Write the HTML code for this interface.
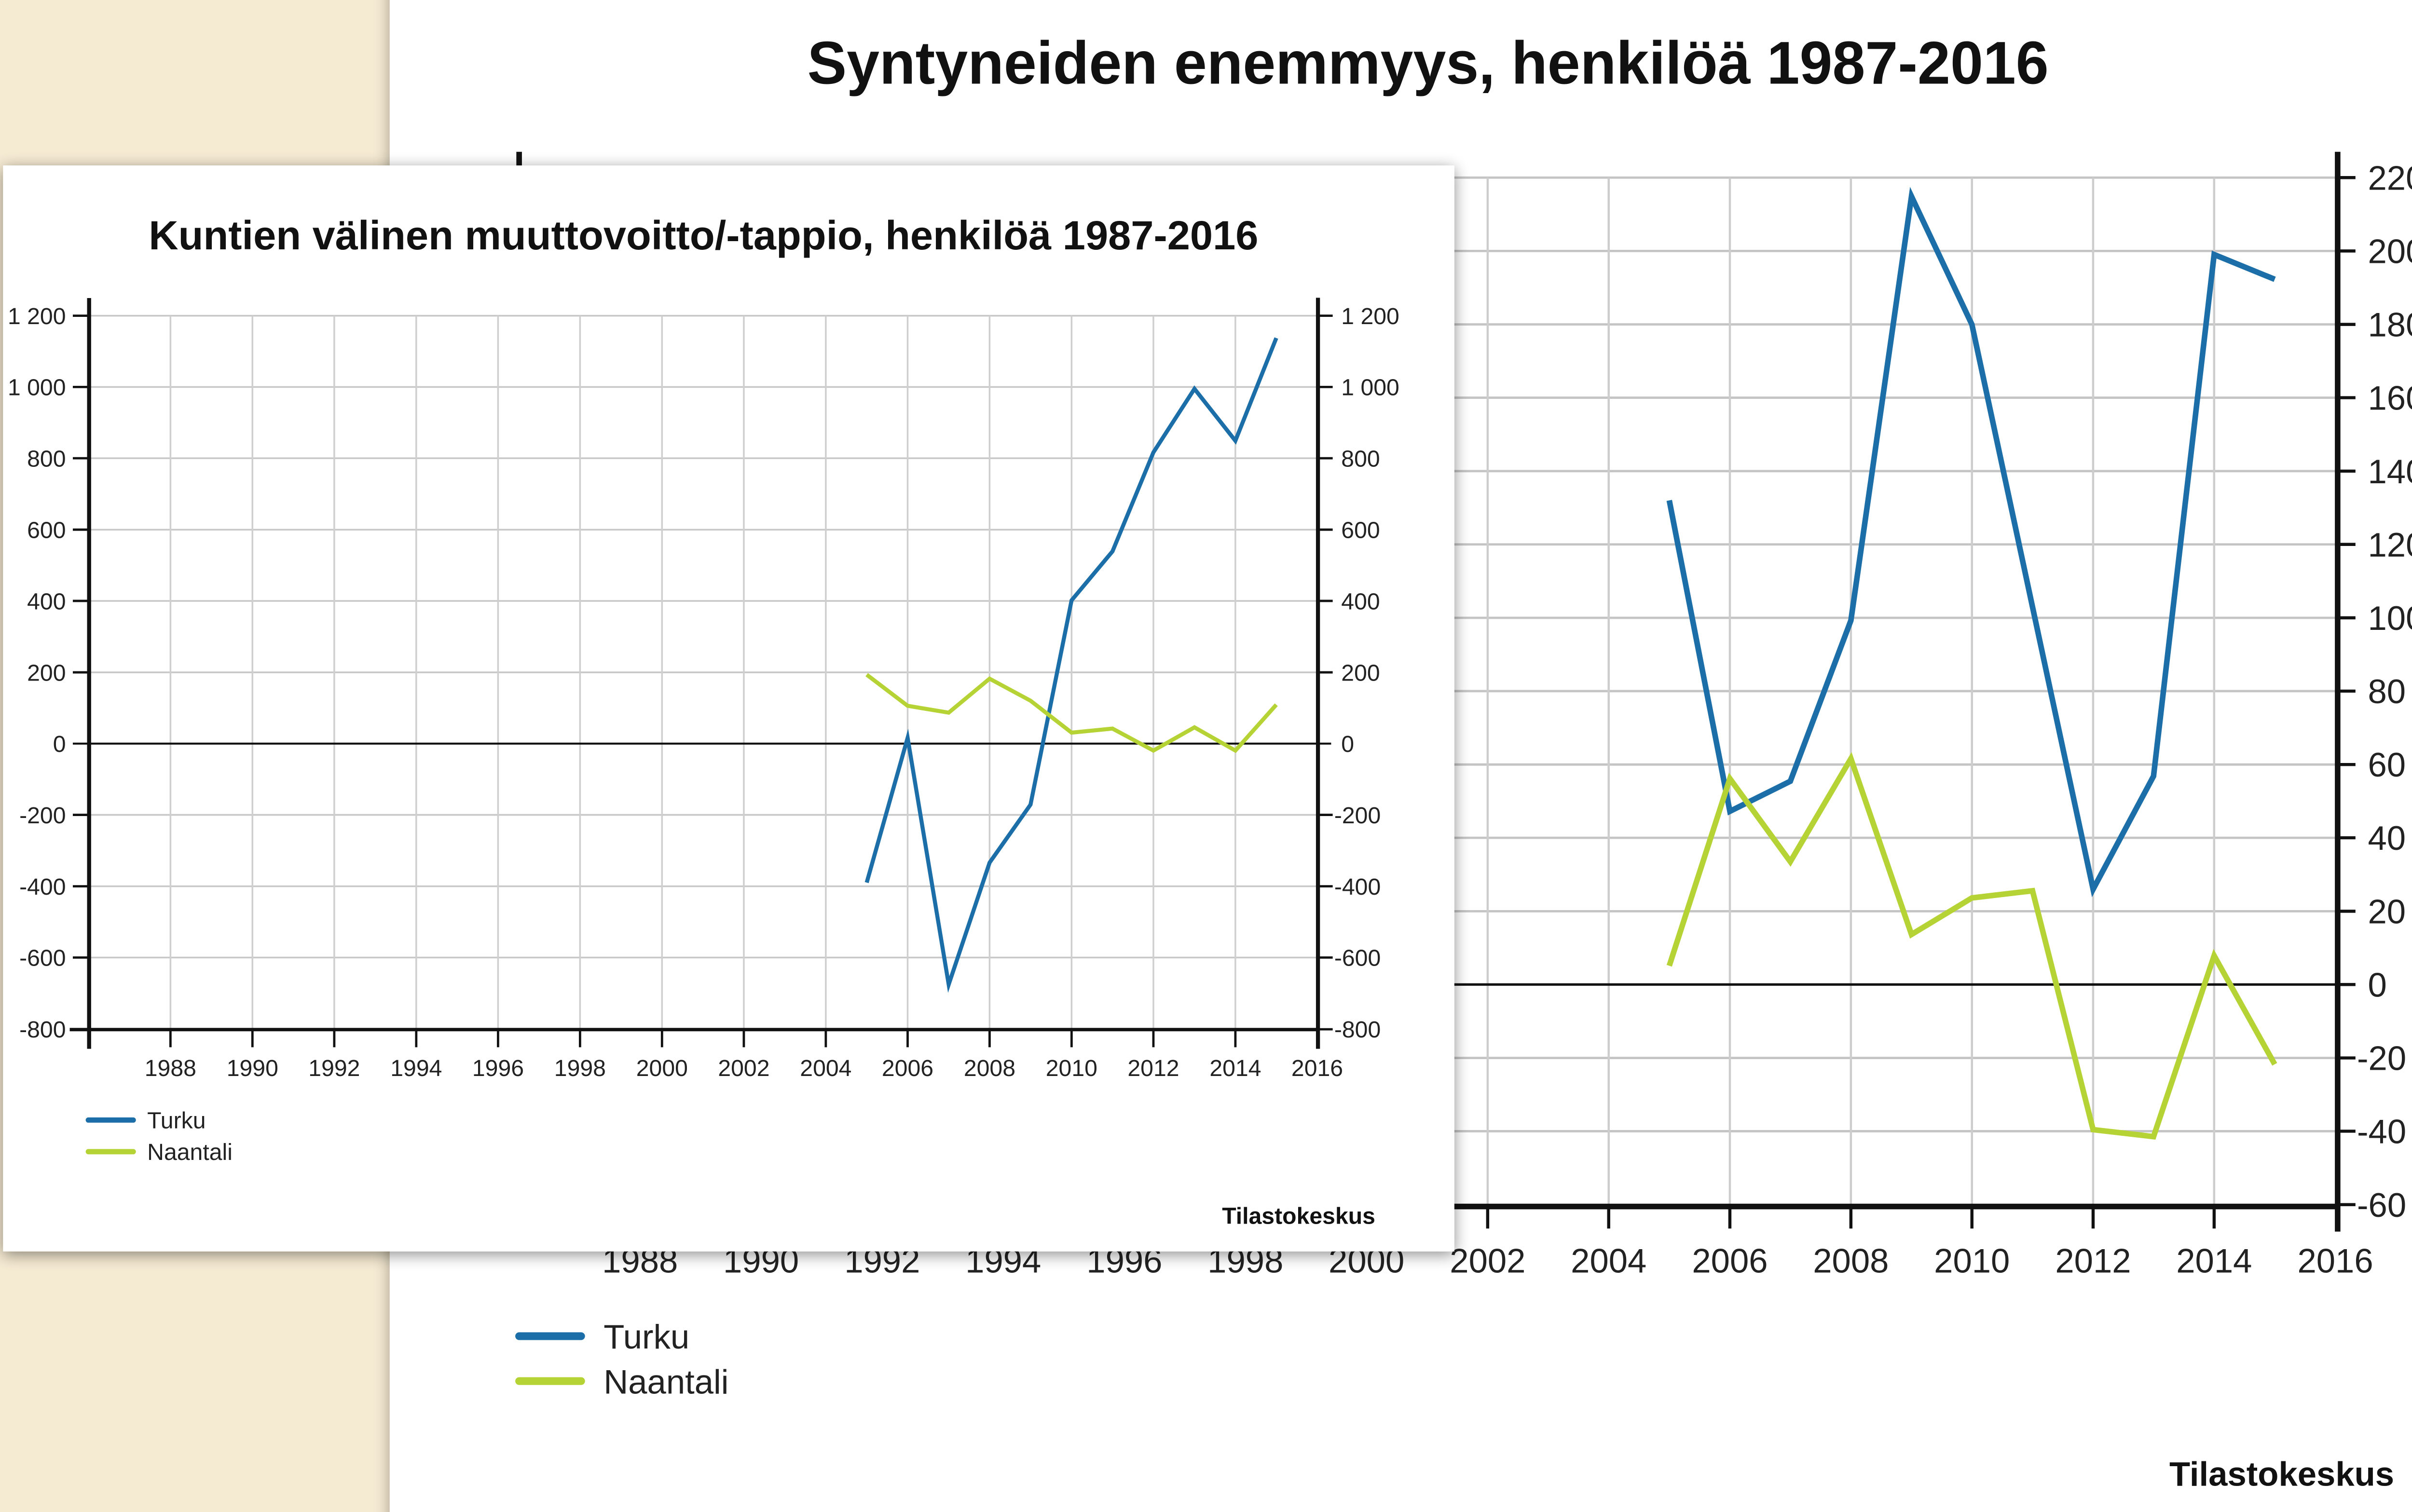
<!DOCTYPE html>
<html>
<head>
<meta charset="utf-8">
<style>
html,body{margin:0;padding:0;background:#fff;}
svg{display:block;}
text{font-family:"Liberation Sans", Arial, sans-serif;}
</style>
</head>
<body>
<svg xmlns="http://www.w3.org/2000/svg" width="5037" height="3135" viewBox="0 0 1568 976" preserveAspectRatio="none">
<defs>
  <filter id="sh" x="-10%" y="-10%" width="120%" height="120%">
    <feGaussianBlur in="SourceAlpha" stdDeviation="5"/>
    <feOffset dx="0" dy="2" result="b"/>
    <feComponentTransfer><feFuncA type="linear" slope="0.45"/></feComponentTransfer>
    <feMerge><feMergeNode/><feMergeNode in="SourceGraphic"/></feMerge>
  </filter>
  <filter id="sh2" x="-5%" y="-5%" width="110%" height="110%">
    <feGaussianBlur in="SourceAlpha" stdDeviation="5"/>
    <feComponentTransfer><feFuncA type="linear" slope="0.35"/></feComponentTransfer>
    <feMerge><feMergeNode/><feMergeNode in="SourceGraphic"/></feMerge>
  </filter>
</defs>

<!-- beige background -->
<rect x="0" y="0" width="1568" height="976" fill="#f5ead2"/>
<!-- back white panel -->
<rect x="251.5" y="-20" width="1340" height="1020" fill="#ffffff" filter="url(#sh2)"/>

<!-- ================= BACK CHART ================= -->
<text x="521" y="54" font-size="39" font-weight="bold" fill="#111" textLength="801" lengthAdjust="spacingAndGlyphs">Syntyneiden enemmyys, henkilöä 1987-2016</text>

<g stroke="#c4c4c4" stroke-width="1.5" fill="none">
  <!-- horizontal gridlines -->
  <line x1="335" y1="114.65" x2="1508" y2="114.65"/>
  <line x1="335" y1="162.0" x2="1508" y2="162.0"/>
  <line x1="335" y1="209.4" x2="1508" y2="209.4"/>
  <line x1="335" y1="256.7" x2="1508" y2="256.7"/>
  <line x1="335" y1="304.1" x2="1508" y2="304.1"/>
  <line x1="335" y1="351.4" x2="1508" y2="351.4"/>
  <line x1="335" y1="398.8" x2="1508" y2="398.8"/>
  <line x1="335" y1="446.1" x2="1508" y2="446.1"/>
  <line x1="335" y1="493.5" x2="1508" y2="493.5"/>
  <line x1="335" y1="540.8" x2="1508" y2="540.8"/>
  <line x1="335" y1="588.2" x2="1508" y2="588.2"/>
  <line x1="335" y1="682.9" x2="1508" y2="682.9"/>
  <line x1="335" y1="730.2" x2="1508" y2="730.2"/>
</g>
<g stroke="#cdcdcd" stroke-width="1.4" fill="none">
  <!-- vertical gridlines 1988..2014 -->
  <line x1="413" y1="114.65" x2="413" y2="778"/>
  <line x1="491.1" y1="114.65" x2="491.1" y2="778"/>
  <line x1="569.3" y1="114.65" x2="569.3" y2="778"/>
  <line x1="647.4" y1="114.65" x2="647.4" y2="778"/>
  <line x1="725.6" y1="114.65" x2="725.6" y2="778"/>
  <line x1="803.7" y1="114.65" x2="803.7" y2="778"/>
  <line x1="881.8" y1="114.65" x2="881.8" y2="778"/>
  <line x1="960" y1="114.65" x2="960" y2="778"/>
  <line x1="1038.1" y1="114.65" x2="1038.1" y2="778"/>
  <line x1="1116.3" y1="114.65" x2="1116.3" y2="778"/>
  <line x1="1194.4" y1="114.65" x2="1194.4" y2="778"/>
  <line x1="1272.5" y1="114.65" x2="1272.5" y2="778"/>
  <line x1="1350.7" y1="114.65" x2="1350.7" y2="778"/>
  <line x1="1428.8" y1="114.65" x2="1428.8" y2="778"/>
</g>
<!-- zero line -->
<line x1="335" y1="635.5" x2="1508" y2="635.5" stroke="#111" stroke-width="1.6"/>
<!-- axes -->
<g stroke="#111" fill="none">
  <line x1="335" y1="98" x2="335" y2="795" stroke-width="3.6"/>
  <line x1="1508.5" y1="98" x2="1508.5" y2="795" stroke-width="3.6"/>
  <line x1="333" y1="778.8" x2="1510" y2="778.8" stroke-width="3.6"/>
  <!-- right ticks -->
  <g stroke-width="2">
    <line x1="1508" y1="114.65" x2="1520" y2="114.65"/>
    <line x1="1508" y1="162.0" x2="1520" y2="162.0"/>
    <line x1="1508" y1="209.4" x2="1520" y2="209.4"/>
    <line x1="1508" y1="256.7" x2="1520" y2="256.7"/>
    <line x1="1508" y1="304.1" x2="1520" y2="304.1"/>
    <line x1="1508" y1="351.4" x2="1520" y2="351.4"/>
    <line x1="1508" y1="398.8" x2="1520" y2="398.8"/>
    <line x1="1508" y1="446.1" x2="1520" y2="446.1"/>
    <line x1="1508" y1="493.5" x2="1520" y2="493.5"/>
    <line x1="1508" y1="540.8" x2="1520" y2="540.8"/>
    <line x1="1508" y1="588.2" x2="1520" y2="588.2"/>
    <line x1="1508" y1="635.5" x2="1520" y2="635.5"/>
    <line x1="1508" y1="682.9" x2="1520" y2="682.9"/>
    <line x1="1508" y1="730.2" x2="1520" y2="730.2"/>
    <line x1="1508" y1="777.6" x2="1520" y2="777.6"/>
  </g>
  <!-- left ticks -->
  <g stroke-width="2">
    <line x1="323" y1="114.65" x2="335" y2="114.65"/>
  </g>
  <!-- bottom ticks -->
  <g stroke-width="2">
    <line x1="413" y1="778" x2="413" y2="793"/>
    <line x1="491.1" y1="778" x2="491.1" y2="793"/>
    <line x1="569.3" y1="778" x2="569.3" y2="793"/>
    <line x1="647.4" y1="778" x2="647.4" y2="793"/>
    <line x1="725.6" y1="778" x2="725.6" y2="793"/>
    <line x1="803.7" y1="778" x2="803.7" y2="793"/>
    <line x1="881.8" y1="778" x2="881.8" y2="793"/>
    <line x1="960" y1="778" x2="960" y2="793"/>
    <line x1="1038.1" y1="778" x2="1038.1" y2="793"/>
    <line x1="1116.3" y1="778" x2="1116.3" y2="793"/>
    <line x1="1194.4" y1="778" x2="1194.4" y2="793"/>
    <line x1="1272.5" y1="778" x2="1272.5" y2="793"/>
    <line x1="1350.7" y1="778" x2="1350.7" y2="793"/>
    <line x1="1428.8" y1="778" x2="1428.8" y2="793"/>
  </g>
</g>
<!-- right y labels -->
<g font-size="22" fill="#222">
  <text x="1528" y="122.5">220</text>
  <text x="1528" y="169.8">200</text>
  <text x="1528" y="217.2">180</text>
  <text x="1528" y="264.5">160</text>
  <text x="1528" y="311.9">140</text>
  <text x="1528" y="359.2">120</text>
  <text x="1528" y="406.6">100</text>
  <text x="1528" y="453.9">80</text>
  <text x="1528" y="501.3">60</text>
  <text x="1528" y="548.6">40</text>
  <text x="1528" y="596">20</text>
  <text x="1528" y="643.3">0</text>
  <text x="1521" y="690.7">-20</text>
  <text x="1521" y="738">-40</text>
  <text x="1521" y="785.4">-60</text>
</g>
<text x="313" y="122.5" font-size="22" fill="#222" text-anchor="end">220</text>
<!-- x labels -->
<g font-size="22" fill="#222" text-anchor="middle">
  <text x="413" y="821.5">1988</text>
  <text x="491.1" y="821.5">1990</text>
  <text x="569.3" y="821.5">1992</text>
  <text x="647.4" y="821.5">1994</text>
  <text x="725.6" y="821.5">1996</text>
  <text x="803.7" y="821.5">1998</text>
  <text x="881.8" y="821.5">2000</text>
  <text x="960" y="821.5">2002</text>
  <text x="1038.1" y="821.5">2004</text>
  <text x="1116.3" y="821.5">2006</text>
  <text x="1194.4" y="821.5">2008</text>
  <text x="1272.5" y="821.5">2010</text>
  <text x="1350.7" y="821.5">2012</text>
  <text x="1428.8" y="821.5">2014</text>
  <text x="1507" y="821.5">2016</text>
</g>
<!-- series -->
<polyline fill="none" stroke="#1b6ea7" stroke-width="3.6" stroke-linejoin="miter" stroke-miterlimit="6"
  points="1077.2,323 1116.3,523.7 1155.3,504.3 1194.4,400.5 1233.5,126.8 1272.5,209.5 1311.6,391.8 1350.7,574 1389.7,501 1428.8,164.3 1467.9,180.3"/>
<polyline fill="none" stroke="#b5d335" stroke-width="3.6" stroke-linejoin="miter" stroke-miterlimit="6"
  points="1077.2,623.4 1116.3,502.6 1155.3,556.2 1194.4,489.7 1233.5,603.2 1272.5,579.6 1311.6,575 1350.7,729.2 1389.7,733.7 1428.8,616.9 1467.9,687"/>
<!-- legend -->
<line x1="335" y1="862.5" x2="375" y2="862.5" stroke="#1b6ea7" stroke-width="5" stroke-linecap="round"/>
<line x1="335" y1="891.5" x2="375" y2="891.5" stroke="#b5d335" stroke-width="5" stroke-linecap="round"/>
<text x="389.5" y="870.5" font-size="22" fill="#222">Turku</text>
<text x="389.5" y="899.5" font-size="22" fill="#222">Naantali</text>
<text x="1545" y="959" font-size="22" font-weight="bold" fill="#111" text-anchor="end">Tilastokeskus</text>

<!-- ================= FRONT PANEL ================= -->
<rect x="2" y="106.8" width="936.5" height="701" fill="#ffffff" filter="url(#sh)"/>

<text x="96" y="161" font-size="26.4" font-weight="bold" fill="#111" textLength="716" lengthAdjust="spacingAndGlyphs">Kuntien välinen muuttovoitto/-tappio, henkilöä 1987-2016</text>

<g stroke="#c8c8c8" stroke-width="1.1" fill="none">
  <line x1="58" y1="203.8" x2="850" y2="203.8"/>
  <line x1="58" y1="249.8" x2="850" y2="249.8"/>
  <line x1="58" y1="295.8" x2="850" y2="295.8"/>
  <line x1="58" y1="341.9" x2="850" y2="341.9"/>
  <line x1="58" y1="387.9" x2="850" y2="387.9"/>
  <line x1="58" y1="434" x2="850" y2="434"/>
  <line x1="58" y1="526" x2="850" y2="526"/>
  <line x1="58" y1="572.1" x2="850" y2="572.1"/>
  <line x1="58" y1="618.1" x2="850" y2="618.1"/>
</g>
<g stroke="#cfcfcf" stroke-width="1.1" fill="none">
  <line x1="110" y1="203.8" x2="110" y2="664"/>
  <line x1="162.9" y1="203.8" x2="162.9" y2="664"/>
  <line x1="215.7" y1="203.8" x2="215.7" y2="664"/>
  <line x1="268.6" y1="203.8" x2="268.6" y2="664"/>
  <line x1="321.4" y1="203.8" x2="321.4" y2="664"/>
  <line x1="374.3" y1="203.8" x2="374.3" y2="664"/>
  <line x1="427.2" y1="203.8" x2="427.2" y2="664"/>
  <line x1="480" y1="203.8" x2="480" y2="664"/>
  <line x1="532.9" y1="203.8" x2="532.9" y2="664"/>
  <line x1="585.7" y1="203.8" x2="585.7" y2="664"/>
  <line x1="638.6" y1="203.8" x2="638.6" y2="664"/>
  <line x1="691.5" y1="203.8" x2="691.5" y2="664"/>
  <line x1="744.3" y1="203.8" x2="744.3" y2="664"/>
  <line x1="797.2" y1="203.8" x2="797.2" y2="664"/>
</g>
<line x1="47" y1="480" x2="859" y2="480" stroke="#111" stroke-width="1.3"/>
<g stroke="#111" fill="none">
  <line x1="57.5" y1="192.4" x2="57.5" y2="677" stroke-width="2.6"/>
  <line x1="850.5" y1="192.2" x2="850.5" y2="677" stroke-width="2.6"/>
  <line x1="45" y1="664.6" x2="851.5" y2="664.6" stroke-width="2.2"/>
  <g stroke-width="1.5">
    <line x1="47" y1="203.8" x2="57" y2="203.8"/>
    <line x1="47" y1="249.8" x2="57" y2="249.8"/>
    <line x1="47" y1="295.8" x2="57" y2="295.8"/>
    <line x1="47" y1="341.9" x2="57" y2="341.9"/>
    <line x1="47" y1="387.9" x2="57" y2="387.9"/>
    <line x1="47" y1="434" x2="57" y2="434"/>
    <line x1="47" y1="526" x2="57" y2="526"/>
    <line x1="47" y1="572.1" x2="57" y2="572.1"/>
    <line x1="47" y1="618.1" x2="57" y2="618.1"/>
    <line x1="851" y1="203.8" x2="860" y2="203.8"/>
    <line x1="851" y1="249.8" x2="860" y2="249.8"/>
    <line x1="851" y1="295.8" x2="860" y2="295.8"/>
    <line x1="851" y1="341.9" x2="860" y2="341.9"/>
    <line x1="851" y1="387.9" x2="860" y2="387.9"/>
    <line x1="851" y1="434" x2="860" y2="434"/>
    <line x1="851" y1="526" x2="860" y2="526"/>
    <line x1="851" y1="572.1" x2="860" y2="572.1"/>
    <line x1="851" y1="618.1" x2="860" y2="618.1"/>
    <line x1="851" y1="664.4" x2="860" y2="664.4"/>
    <line x1="110" y1="664" x2="110" y2="676"/>
    <line x1="162.9" y1="664" x2="162.9" y2="676"/>
    <line x1="215.7" y1="664" x2="215.7" y2="676"/>
    <line x1="268.6" y1="664" x2="268.6" y2="676"/>
    <line x1="321.4" y1="664" x2="321.4" y2="676"/>
    <line x1="374.3" y1="664" x2="374.3" y2="676"/>
    <line x1="427.2" y1="664" x2="427.2" y2="676"/>
    <line x1="480" y1="664" x2="480" y2="676"/>
    <line x1="532.9" y1="664" x2="532.9" y2="676"/>
    <line x1="585.7" y1="664" x2="585.7" y2="676"/>
    <line x1="638.6" y1="664" x2="638.6" y2="676"/>
    <line x1="691.5" y1="664" x2="691.5" y2="676"/>
    <line x1="744.3" y1="664" x2="744.3" y2="676"/>
    <line x1="797.2" y1="664" x2="797.2" y2="676"/>
  </g>
</g>
<!-- left labels -->
<g font-size="15" fill="#222" text-anchor="end">
  <text x="42.5" y="209.2">1 200</text>
  <text x="42.5" y="255.2">1 000</text>
  <text x="42.5" y="301.2">800</text>
  <text x="42.5" y="347.3">600</text>
  <text x="42.5" y="393.3">400</text>
  <text x="42.5" y="439.4">200</text>
  <text x="42.5" y="485.4">0</text>
  <text x="42.5" y="531.4">-200</text>
  <text x="42.5" y="577.5">-400</text>
  <text x="42.5" y="623.5">-600</text>
  <text x="42.5" y="669.6">-800</text>
</g>
<!-- right labels -->
<g font-size="15" fill="#222">
  <text x="865.5" y="209.2">1 200</text>
  <text x="865.5" y="255.2">1 000</text>
  <text x="865.5" y="301.2">800</text>
  <text x="865.5" y="347.3">600</text>
  <text x="865.5" y="393.3">400</text>
  <text x="865.5" y="439.4">200</text>
  <text x="865.5" y="485.4">0</text>
  <text x="861" y="531.4">-200</text>
  <text x="861" y="577.5">-400</text>
  <text x="861" y="623.5">-600</text>
  <text x="861" y="669.6">-800</text>
</g>
<!-- x labels -->
<g font-size="15" fill="#222" text-anchor="middle">
  <text x="110" y="694.5">1988</text>
  <text x="162.9" y="694.5">1990</text>
  <text x="215.7" y="694.5">1992</text>
  <text x="268.6" y="694.5">1994</text>
  <text x="321.4" y="694.5">1996</text>
  <text x="374.3" y="694.5">1998</text>
  <text x="427.2" y="694.5">2000</text>
  <text x="480" y="694.5">2002</text>
  <text x="532.9" y="694.5">2004</text>
  <text x="585.7" y="694.5">2006</text>
  <text x="638.6" y="694.5">2008</text>
  <text x="691.5" y="694.5">2010</text>
  <text x="744.3" y="694.5">2012</text>
  <text x="797.2" y="694.5">2014</text>
  <text x="850" y="694.5">2016</text>
</g>
<!-- series -->
<polyline fill="none" stroke="#1b6ea7" stroke-width="2.6" stroke-linejoin="miter" stroke-miterlimit="6"
  points="559.3,569.7 585.7,476.3 612.2,635.5 638.6,556.8 665,519.4 691.5,387.5 717.9,355.9 744.3,292 770.8,251 797.2,284.5 823.6,218.2"/>
<polyline fill="none" stroke="#b5d335" stroke-width="2.6" stroke-linejoin="miter" stroke-miterlimit="6"
  points="559.3,435.5 585.7,455.6 612.2,460 638.6,438.1 665,452.3 691.5,472.9 717.9,470.3 744.3,484.5 770.8,469.5 797.2,484.5 823.6,454.9"/>
<!-- legend -->
<line x1="57" y1="723" x2="86" y2="723" stroke="#1b6ea7" stroke-width="3.4" stroke-linecap="round"/>
<line x1="57" y1="743.4" x2="86" y2="743.4" stroke="#b5d335" stroke-width="3.4" stroke-linecap="round"/>
<text x="95" y="728.3" font-size="15" fill="#222">Turku</text>
<text x="95" y="748.7" font-size="15" fill="#222">Naantali</text>
<text x="887.5" y="790" font-size="15" font-weight="bold" fill="#111" text-anchor="end">Tilastokeskus</text>
</svg>
</body>
</html>
